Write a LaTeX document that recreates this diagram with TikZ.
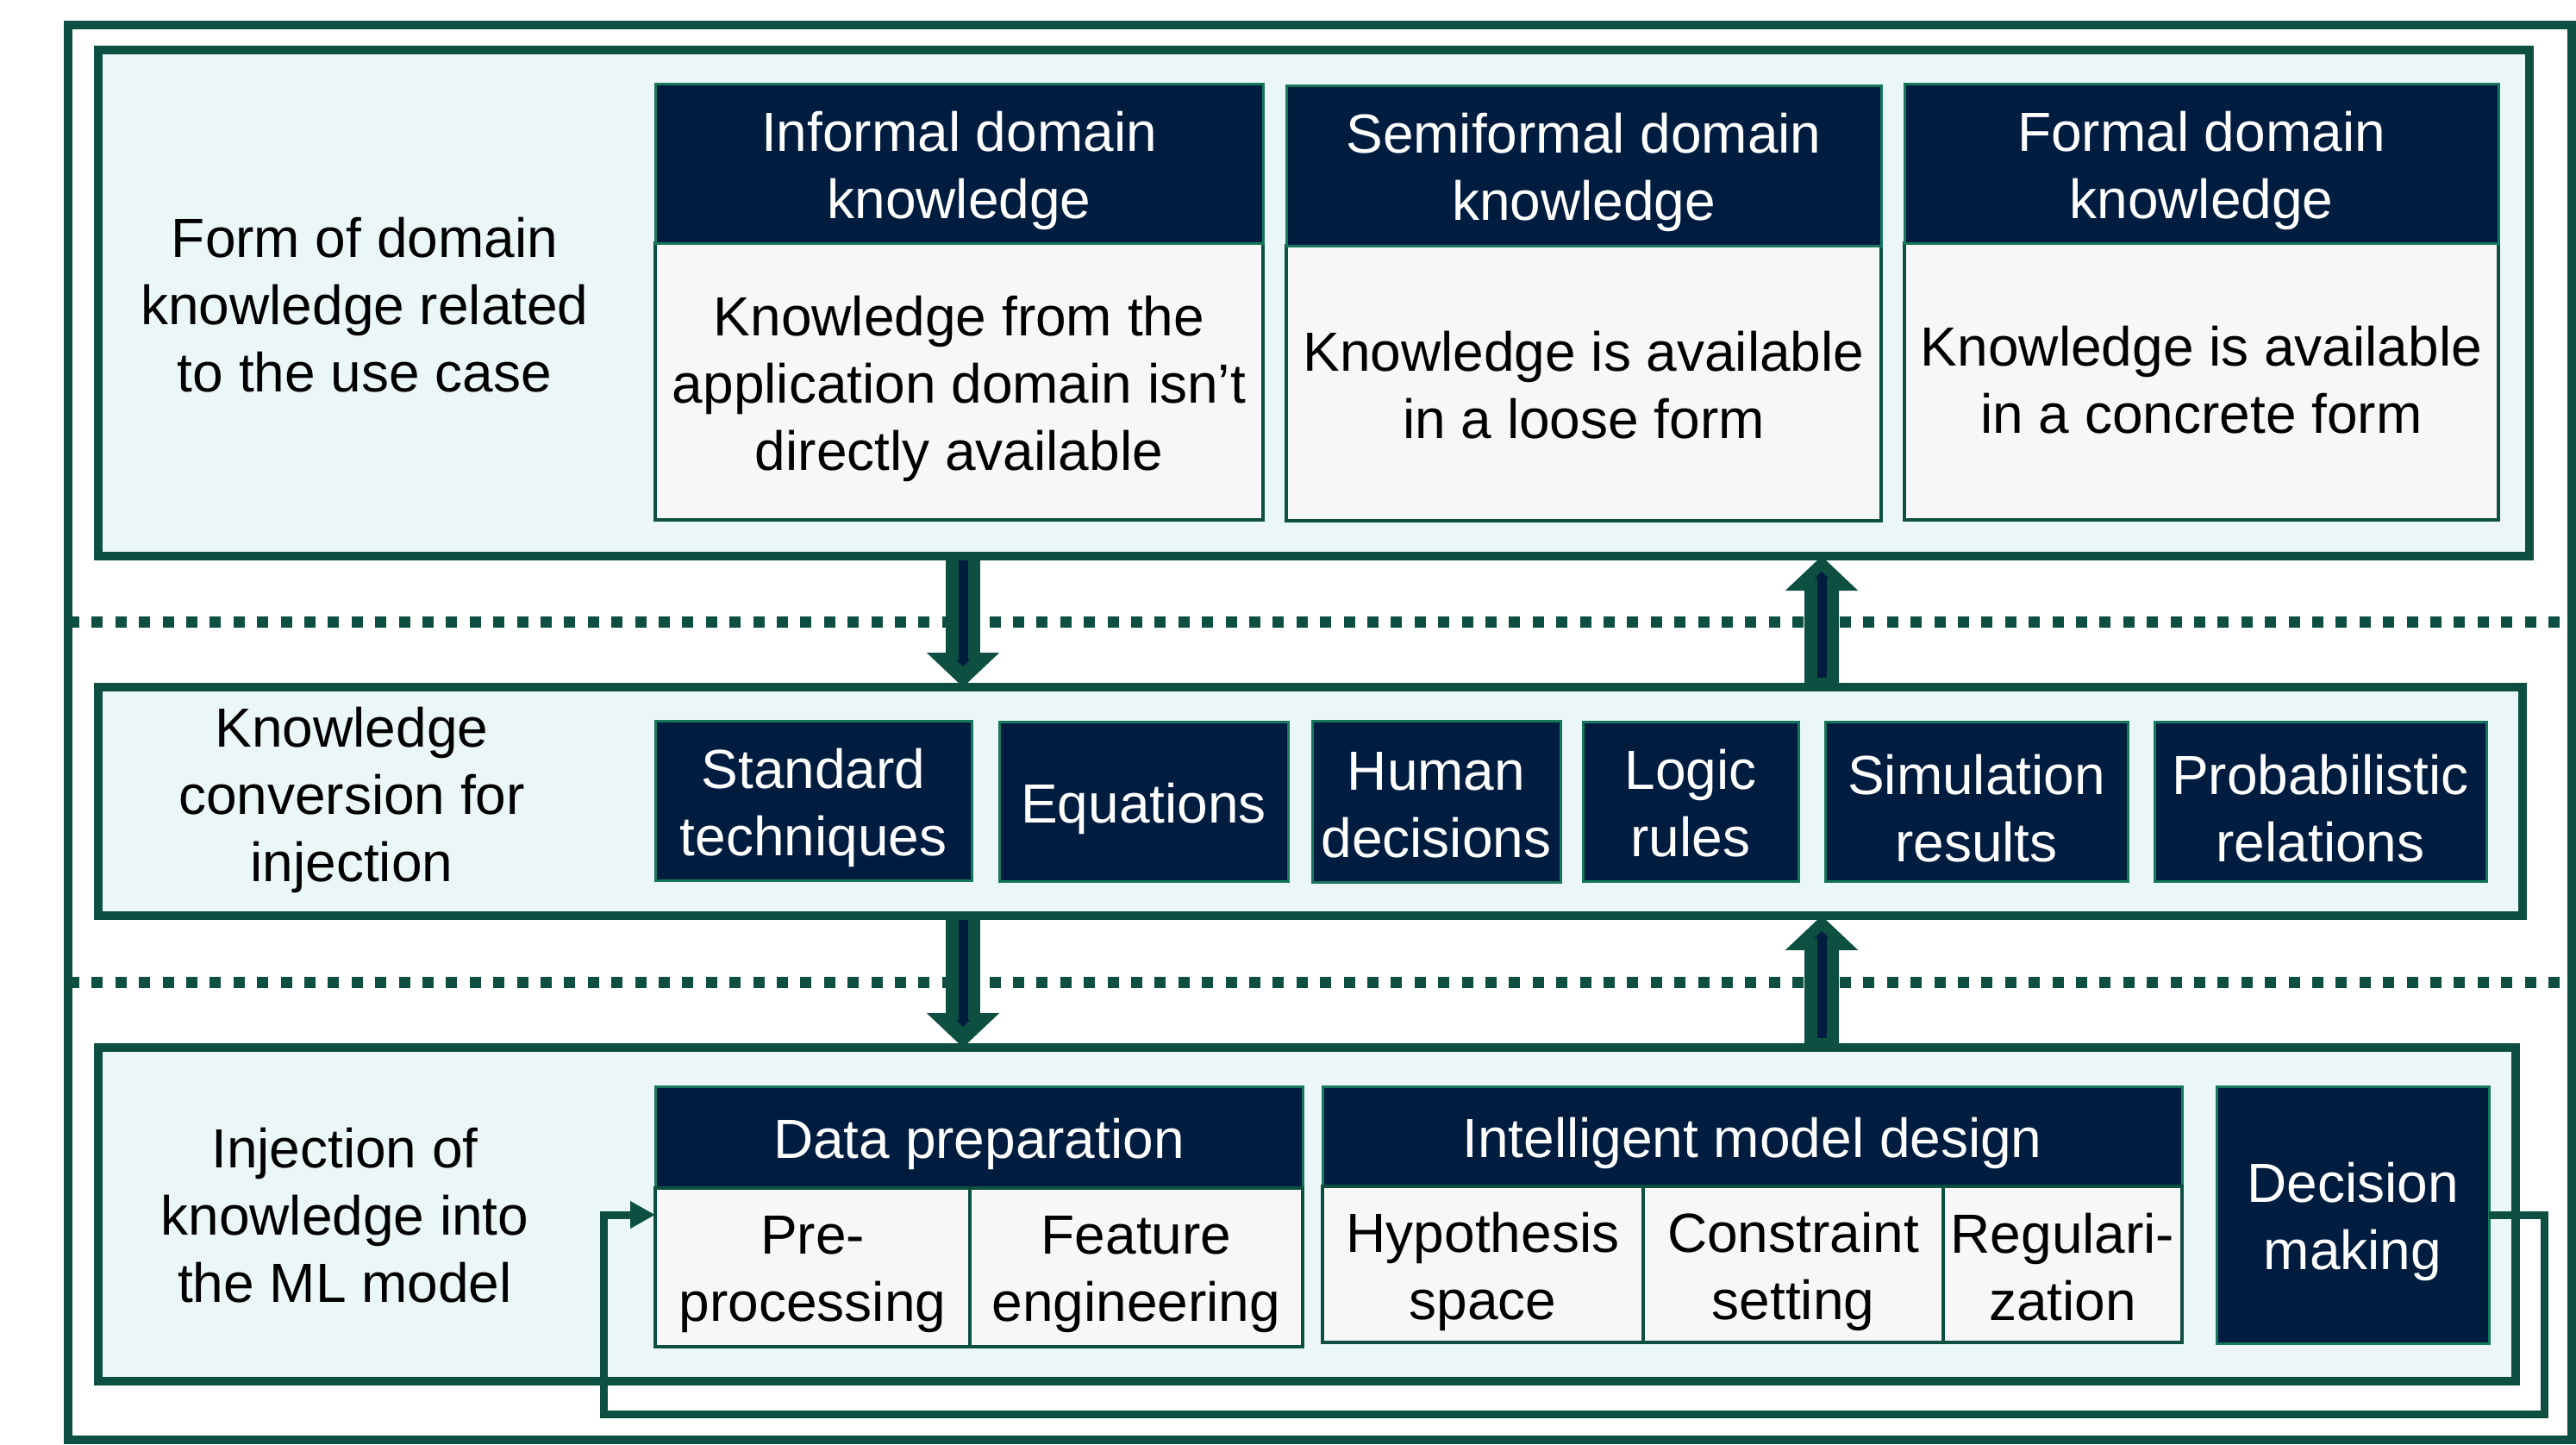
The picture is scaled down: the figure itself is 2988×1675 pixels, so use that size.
\documentclass[tikz,border=0pt]{standalone}
\usepackage{fontspec}
\setmainfont{Liberation Sans}
\usetikzlibrary{arrows.meta}
\definecolor{frameGreen}{HTML}{0D4F41}
\definecolor{boxNavy}{HTML}{001D40}
\definecolor{edgeTeal}{HTML}{17775C}
\definecolor{panelFill}{HTML}{EBF7F7}
\definecolor{bodyFill}{HTML}{F7F7F7}
% rectangle node given by its corners: [text shift], style, name, x1, y1, x2, y2, text;
% the text sits in its own node, set slightly off the box centre
\newcommand{\cellbox}[8][-2pt]{%
  \node[#2, minimum width={(#6-#4)*0.25pt}, minimum height={(#7-#5)*0.25pt}]
    (#3) at ({(#4+#6)/2},{(#5+#7)/2}) {};
  \node[#2, draw=none, fill=none] (#3-text) at ([yshift=#1]#3.center) {#8};}
\begin{document}
\begin{tikzpicture}[x=0.25pt,y=-0.25pt,
  every node/.style={outer sep=0pt, inner sep=0pt, align=center,
    font=\fontsize{16pt}{19.5pt}\selectfont},
  frame/.style={draw=frameGreen, line width=2.5pt},
  panel/.style={draw=frameGreen, fill=panelFill, line width=2.5pt},
  headbox/.style={draw=edgeTeal, fill=boxNavy, line width=0.75pt, text=white},
  bodybox/.style={draw=frameGreen, fill=bodyFill, line width=1pt, text=black},
  sepline/.style={draw=frameGreen, line width=3.25pt, dash pattern=on 3.25pt off 3.6pt},
  flowarrow/.style={draw=frameGreen, line width=10pt, -{Triangle[width=20.5pt,length=10pt]}},
  flowcore/.style={draw=boxNavy, line width=2.75pt, -{Triangle[width=4pt,length=2pt]}},
  loopline/.style={draw=frameGreen, line width=2.25pt, -{Triangle[width=7.5pt,length=7.25pt]}},
]
\useasboundingbox (0,0) rectangle (2988,1675);

% outer frame
\cellbox{frame}{outer}{79}{29}{2983}{1670}{}

% the three layers
\cellbox{panel}{topP}{114}{58}{2934}{645}{}
\cellbox{panel}{midP}{114}{797}{2926}{1062}{}
\cellbox{panel}{botP}{114}{1215}{2918}{1602}{}

% layer titles
\node (lblTop) at (423,354) {Form of domain\\knowledge related\\to the use case};
\node (lblMid) at (408,928) {Knowledge\\conversion for\\injection};
\node (lblBot) at (400,1410) {Injection of\\knowledge into\\the ML model};

% forms of domain knowledge
\cellbox{bodybox}{infB}{760}{282}{1465}{603}{Knowledge from the\\application domain isn’t\\directly available}
\cellbox{headbox}{infH}{760}{97}{1465}{282}{Informal domain\\knowledge}
\cellbox[-0.6pt]{bodybox}{semB}{1492}{285}{2182}{604}{Knowledge is available\\in a loose form}
\cellbox{headbox}{semH}{1492}{99}{2182}{285}{Semiformal domain\\knowledge}
\cellbox[0.4pt]{bodybox}{forB}{2209}{282}{2898}{603}{Knowledge is available\\in a concrete form}
\cellbox{headbox}{forH}{2209}{97}{2898}{282}{Formal domain\\knowledge}

% knowledge conversion
\cellbox{headbox}{std}{760}{836}{1127}{1021}{Standard\\techniques}
\cellbox{headbox}{equ}{1159}{837}{1494}{1022}{Equations}
\cellbox[-1pt]{headbox}{hum}{1522}{836}{1810}{1023}{Human\\decisions}
\cellbox[-0.6pt]{headbox}{log}{1836}{837}{2086}{1022}{Logic\\rules}
\cellbox{headbox}{sim}{2117}{837}{2468}{1022}{Simulation\\results}
\cellbox{headbox}{prob}{2499}{837}{2884}{1022}{Probabilistic\\relations}

% injection into the ML model
\cellbox{headbox}{data}{760}{1260}{1511}{1378}{Data preparation}
\cellbox{bodybox}{pre}{760}{1378}{1125}{1562}{Pre-\\processing}
\cellbox{bodybox}{feat}{1125}{1378}{1511}{1562}{Feature\\engineering}
\cellbox{headbox}{imd}{1534}{1260}{2531}{1376}{Intelligent model design}
\cellbox{bodybox}{hyp}{1534}{1376}{1906}{1557}{Hypothesis\\space}
\cellbox{bodybox}{con}{1906}{1376}{2254}{1557}{Constraint\\setting}
\cellbox[-0.8pt]{bodybox}{reg}{2254}{1376}{2531}{1557}{Regulari-\\zation}
\cellbox{headbox}{dec}{2571}{1260}{2887}{1558}{Decision\\making}

% dotted separators
\coordinate (sepA) at (0,721);
\coordinate (sepB) at (0,1139);
\draw[sepline] (outer.west |- sepA) -- (outer.east |- sepA);
\draw[sepline] (outer.west |- sepB) -- (outer.east |- sepB);

% flow arrows between the layers
\coordinate (downX) at (1117,0);
\coordinate (upX) at (2113,0);
\draw[flowarrow] (topP.south -| downX) -- (midP.north -| downX);
\draw[flowcore, shorten <=1.25pt, shorten >=6pt] (topP.south -| downX) -- (midP.north -| downX);
\draw[flowarrow] (midP.north -| upX) -- (topP.south -| upX);
\draw[flowcore, shorten <=2.75pt, shorten >=4.5pt] (midP.north -| upX) -- (topP.south -| upX);
\draw[flowarrow] (midP.south -| downX) -- (botP.north -| downX);
\draw[flowcore, shorten <=1.25pt, shorten >=6pt] (midP.south -| downX) -- (botP.north -| downX);
\draw[flowarrow] (botP.north -| upX) -- (midP.south -| upX);
\draw[flowcore, shorten <=2.75pt, shorten >=4.5pt] (botP.north -| upX) -- (midP.south -| upX);

% feedback loop from decision making back to pre-processing
\coordinate (loopR) at (2951,1640);
\coordinate (loopL) at (700,1640);
\draw[loopline] (dec.east) -| (loopR) -- (loopL) |- (dec.east -| pre.west);
\end{tikzpicture}
\end{document}
